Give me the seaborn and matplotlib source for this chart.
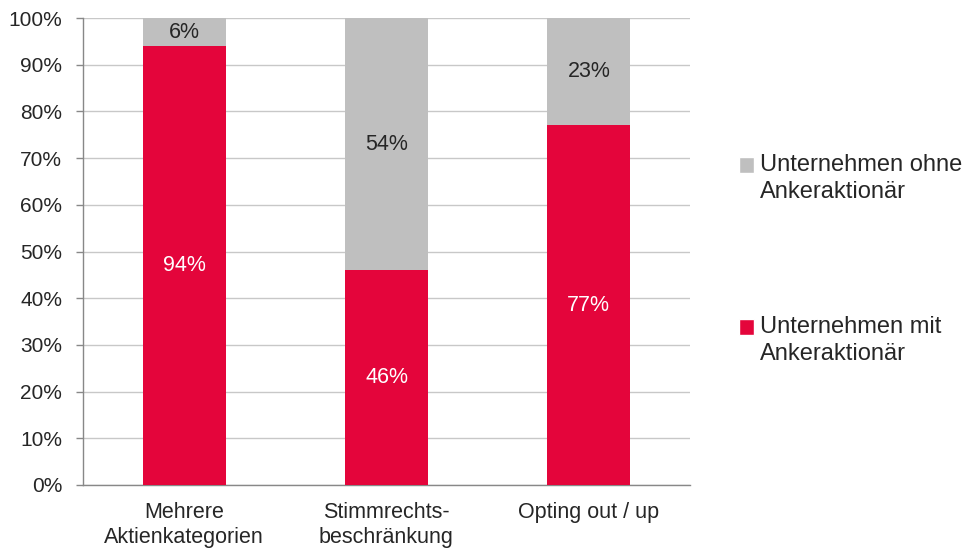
import numpy as np
import pandas as pd
import matplotlib
matplotlib.use("Agg")
import matplotlib.pyplot as plt
import seaborn as sns
from matplotlib.patches import Patch, Rectangle
from matplotlib.legend_handler import HandlerPatch

sns.set_style("white")
plt.rcParams['font.family'] = ['Liberation Sans', 'DejaVu Sans']

categories = ["Mehrere\nAktienkategorien", "Stimmrechts-\nbeschränkung", "Opting out / up"]
mit_anker = [94, 46, 77]
ohne_anker = [6, 54, 23]
lbl_mit = "Unternehmen mit\nAnkeraktionär"
lbl_ohne = "Unternehmen ohne\nAnkeraktionär"

red = "#E4053B"
grey = "#BFBFBF"
txt = "#262626"

df = pd.DataFrame({"cat": categories, "mit": mit_anker, "ohne": ohne_anker})
df["total"] = df["mit"] + df["ohne"]

fig = plt.figure(figsize=(9.68, 5.51), dpi=100)
ax = fig.add_axes([83/968, 1-485/551, (690-83)/968, (485-18)/551])

sns.barplot(data=df, x="cat", y="total", color=grey, width=0.41, saturation=1, ax=ax, zorder=2)
sns.barplot(data=df, x="cat", y="mit", color=red, width=0.41, saturation=1, ax=ax, zorder=3)
for p in ax.patches:
    p.set_edgecolor("none")
    p.set_linewidth(0)

fs = 15.5
for i, (m, o) in enumerate(zip(mit_anker, ohne_anker)):
    ax.text(i, m / 2, f"{m}%", ha="center", va="center", color="white", fontsize=fs, zorder=4)
    ax.text(i, m + o / 2, f"{o}%", ha="center", va="center", color=txt, fontsize=fs, zorder=4)

ax.set_ylim(0, 100)
ax.set_xlim(-0.5, 2.5)
ax.set_yticks(np.arange(0, 101, 10))
ax.set_yticklabels([f"{v}%" for v in range(0, 101, 10)], fontsize=15, color=txt)
ax.yaxis.grid(True, color="#C8C8C8", linewidth=1, zorder=0)
ax.set_axisbelow(True)
ax.set_xlabel("")
ax.set_ylabel("")

ax.set_xticks([0, 1, 2])
ax.set_xticklabels(categories, fontsize=fs, color=txt, linespacing=1.3)
ax.set_xticks([-0.5, 0.5, 1.5, 2.5], minor=True)
ax.tick_params(axis="x", which="major", length=0, pad=12)
ax.tick_params(axis="x", which="minor", length=6, color="#888888", width=1, direction="out")
ax.tick_params(axis="y", length=5, color="#888888", width=1, direction="out", pad=10, left=True)

for s in ["top", "right"]:
    ax.spines[s].set_visible(False)
for s in ["left", "bottom"]:
    ax.spines[s].set_color("#888888")
    ax.spines[s].set_linewidth(1)


def top_square(legend, orig_handle, xdescent, ydescent, width, height, fontsize):
    # put the square next to the first line of the label
    return Rectangle((-xdescent, -ydescent + 9.7), width, height)


handles = [Patch(facecolor=grey, label=lbl_ohne), Patch(facecolor=red, label=lbl_mit)]
leg = fig.legend(handles=handles, loc="upper left", bbox_to_anchor=(739/968, 1-154/551),
                 frameon=False, fontsize=17, labelspacing=4.77, handlelength=0.64,
                 handleheight=0.64, handletextpad=0.25, borderaxespad=0, borderpad=0,
                 handler_map={Patch: HandlerPatch(patch_func=top_square)})
for t in leg.get_texts():
    t.set_linespacing(1.3)
    t.set_color(txt)

fig.savefig("out.png", dpi=100)
